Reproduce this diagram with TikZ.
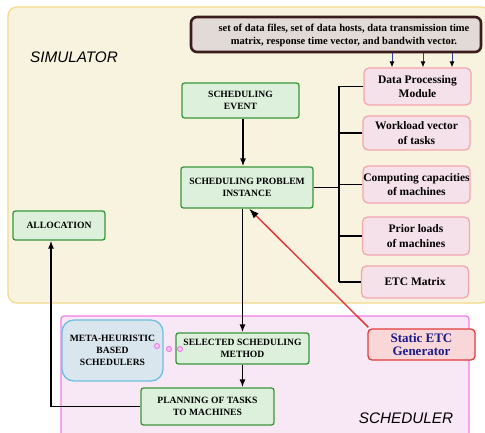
\documentclass[tikz,border=0pt]{standalone}
\usepackage{fontspec}
\setmainfont{Liberation Serif}
\setsansfont{Liberation Sans}
\usetikzlibrary{arrows.meta}
\definecolor{simborder}{HTML}{F2D98C}
\definecolor{simfill}{HTML}{F8F3DF}
\definecolor{schborder}{HTML}{F07DE8}
\definecolor{schfill}{HTML}{F8E8F6}
\definecolor{gborder}{HTML}{3A963A}
\definecolor{gfill}{HTML}{DCF0DC}
\definecolor{pborder}{HTML}{F4A6AE}
\definecolor{pfill}{HTML}{F5E1E9}
\definecolor{tborder}{HTML}{3B1C1C}
\definecolor{tfill}{HTML}{E2DAD6}
\definecolor{mborder}{HTML}{6CC0E0}
\definecolor{mfill}{HTML}{D9E6EE}
\definecolor{rborder}{HTML}{E03C3C}
\definecolor{rfill}{HTML}{F9D6D8}
\definecolor{navy}{HTML}{1B1B8A}
\definecolor{arrblue}{HTML}{3040A0}
\begin{document}
\begin{tikzpicture}[x=1pt,y=-1pt,
  greenbox/.style={draw=gborder, fill=gfill, line width=1.3pt, rounded corners=2.5pt, align=center,
    font=\bfseries\fontsize{9.6}{12.2}\selectfont, inner sep=0pt},
  pinkbox/.style={draw=pborder, fill=pfill, line width=1.3pt, rounded corners=5pt, align=center,
    font=\bfseries\fontsize{11.5}{14.5}\selectfont, inner sep=0pt, minimum width=107pt},
  arr/.style={line width=1.3pt, -{Latex[length=8pt,width=6pt]}},
  plain/.style={line width=1.3pt},
  dot/.style={circle, draw=schborder, fill=schborder!40, line width=1pt, minimum size=5pt, inner sep=0pt},
  frametitle/.style={font=\sffamily\itshape\fontsize{15.3}{17}\selectfont}
]
\useasboundingbox (0,0) rectangle (485,433);
\clip (0,0) rectangle (485,433);

% frames
\draw[draw=simborder, fill=simfill, line width=1.3pt, rounded corners=9pt] (8,7) rectangle (490,303);
\draw[draw=schborder, fill=schfill, line width=1.2pt, rounded corners=3pt] (61,316) rectangle (469,445);
\node[frametitle] (simt) at (74,57) {SIMULATOR};
\node[frametitle] (scht) at (406,418) {SCHEDULER};

% top data box
\node[draw=tborder, fill=tfill, line width=2.6pt, rounded corners=6pt, minimum width=290pt, minimum height=35pt, inner sep=0pt] (top) at (336,34.5) {};
\node[font=\bfseries\fontsize{10.5}{13.3}\selectfont, align=center] (toptext) at ([shift={(8pt,-1pt)}]top.center)
  {set of data files, set of data hosts, data transmission time\\matrix, response time vector, and bandwith vector.};

% pink boxes
\node[pinkbox, minimum height=37pt] (dpm) at (417.5,86.5) {Data Processing\\Module};
\node[pinkbox, minimum height=34pt] (wl) at (416.5,133) {Workload vector\\of tasks};
\node[pinkbox, minimum height=37pt] (cc) at (416.5,184.5) {Computing capacities\\of machines};
\node[pinkbox, minimum height=38pt] (pl) at (416,236) {Prior loads\\of machines};
\node[pinkbox, minimum height=32pt] (etc) at (415,282) {ETC Matrix};

% arrows from top box
\foreach \dx in {-25.5,5.5,34.5}{
  \draw[line width=1pt, arrblue, -{Latex[length=6pt,width=5pt,black]}]
    ([xshift=\dx pt]top.south -| dpm.north) -- ([xshift=\dx pt]dpm.north);
}

% green boxes
\node[greenbox, minimum width=117pt, minimum height=35pt] (ev) at (240.5,100.5) {SCHEDULING\\EVENT};
\node[greenbox, minimum width=132pt, minimum height=41pt] (spi) at (247,187.5) {SCHEDULING PROBLEM\\INSTANCE};
\node[greenbox, minimum width=92pt, minimum height=29pt] (alloc) at (59,225.5) {ALLOCATION};
\node[greenbox, minimum width=133pt, minimum height=31pt] (ssm) at (242.5,348.5) {SELECTED SCHEDULING\\METHOD};
\node[greenbox, minimum width=133pt, minimum height=37pt] (plan) at (207.5,406.5) {PLANNING OF TASKS\\TO MACHINES};

% meta-heuristic box
\node[draw=mborder, fill=mfill, line width=1.3pt, rounded corners=12pt, minimum width=101pt, minimum height=61pt,
  align=center, inner sep=0pt, font=\bfseries\fontsize{9.6}{12.3}\selectfont] (meta) at (112.5,350.5)
  {META-HEURISTIC\\BASED\\SCHEDULERS};

% static ETC generator
\node[draw=rborder, fill=rfill, line width=1.3pt, rounded corners=4pt, minimum width=107pt, minimum height=31pt,
  align=center, inner sep=0pt, text=navy, font=\bfseries\fontsize{13}{13.7}\selectfont] (gen) at (421.5,344.5)
  {Static ETC\\Generator};

% dots
\node[dot] (d1) at (157,346) {};
\node[dot] (d2) at (169,349) {};
\node[dot] (d3) at (180,349) {};

% bracket
\coordinate (br) at (339,187.5);
\draw[plain] (dpm.west -| br) -- (etc.west -| br);
\foreach \b in {dpm,wl,cc,pl,etc}{ \draw[plain] (\b.west) -- (\b.west -| br); }
\draw[plain] (spi.east) -- (br);

% connectors
\draw[arr] (ev.south -| 243,0) -- (spi.north -| 243,0);
\draw[arr] (ssm.north |- spi.south) -- (ssm.north);
\draw[arr] (ssm.south) -- (ssm.south |- plan.north);
\draw[arr] (plan.west) -| ([xshift=-8pt]alloc.south);
\draw[line width=1.5pt, rborder, -{Latex[length=10pt,width=7pt,black]}] ([shift={(1pt,1pt)}]gen.north west) -- ([xshift=2pt]spi.south);
\end{tikzpicture}
\end{document}
